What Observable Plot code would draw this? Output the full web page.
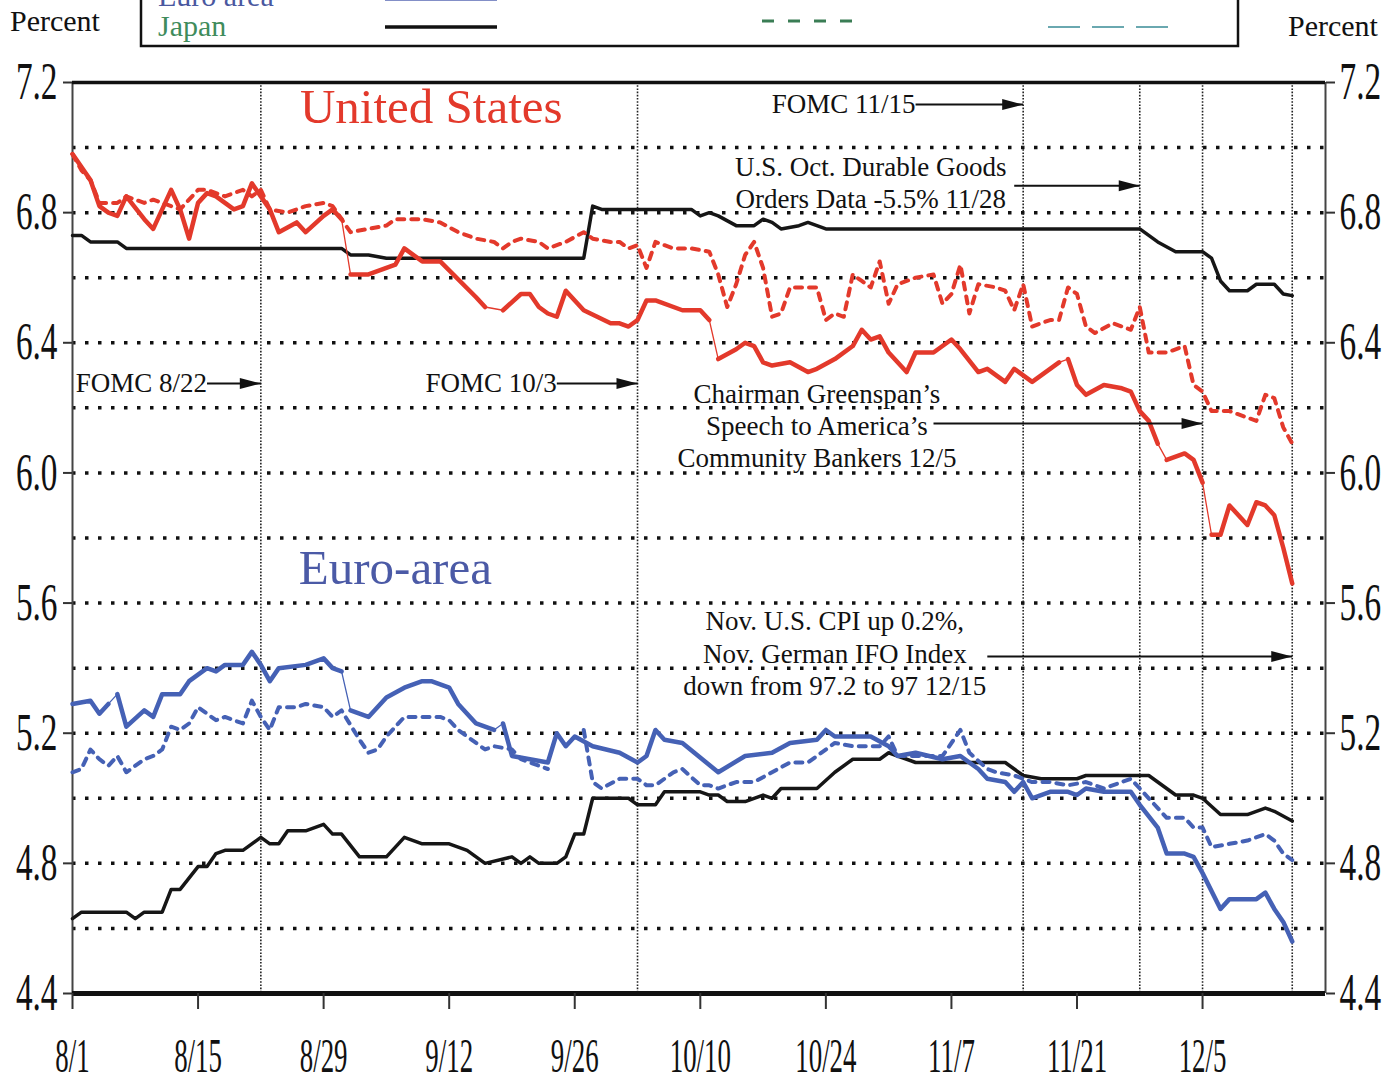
<!DOCTYPE html>
<html><head><meta charset="utf-8">
<script src="https://cdn.jsdelivr.net/npm/d3@7"></script>
<script src="https://cdn.jsdelivr.net/npm/@observablehq/plot@0.6"></script>
<style>
html,body{margin:0;padding:0;background:#fff;}
body{position:relative;width:1400px;height:1085px;overflow:hidden;font-family:"Liberation Serif","Times New Roman",serif;color:#111;}
.pct{position:absolute;font-size:30px;line-height:1;}
#legend{position:absolute;left:0;top:0;}
#chart{position:absolute;left:0;top:50px;}
</style></head><body>
<div class="pct" style="left:10px;top:6px">Percent</div>
<div class="pct" style="left:1288px;top:11px">Percent</div>
<svg id="legend" width="1400" height="50"></svg>
<div id="chart"></div>
<script>
// ---------- axes / reference values ----------
const xTickLabels = ["8/1","8/15","8/29","9/12","9/26","10/10","10/24","11/7","11/21","12/5"];
const yTickValues = [4.4,4.8,5.2,5.6,6.0,6.4,6.8,7.2];
const gridValues = [4.6,4.8,5.0,5.2,5.4,5.6,5.8,6.0,6.2,6.4,6.6,6.8,7.0];
const eventDates = ["8/22","10/3","11/15","11/28","12/5","12/15"];

// ---------- United States ----------
const usSolidDates = ["8/1","8/2","8/3","8/4","8/5","8/6","8/7","8/9","8/10","8/12","8/13","8/14","8/15","8/16","8/17","8/19","8/20","8/21","8/22","8/23","8/24","8/26","8/27","8/29","8/30","8/31","9/1","9/1","9/3","9/6","9/7","9/9","9/11","9/15","9/16","9/18","9/18","9/20","9/21","9/22","9/23","9/24","9/25","9/26","9/27","9/30","10/1","10/2","10/3","10/4","10/5","10/8","10/10","10/11","10/12","10/12","10/14","10/15","10/16","10/17","10/18","10/20","10/22","10/23","10/25","10/27","10/28","10/29","10/30","10/31","11/2","11/3","11/5","11/7","11/8","11/10","11/11","11/13","11/14","11/16","11/19","11/20","11/20","11/21","11/22","11/24","11/26","11/27","11/28","11/29","11/30","12/1","12/1","12/2","12/3","12/4","12/5","12/6","12/6","12/7","12/8","12/10","12/11","12/12","12/13","12/14","12/15"];
const usSolidValues = [6.98,6.94,6.90,6.82,6.80,6.79,6.85,6.78,6.75,6.87,6.81,6.72,6.83,6.86,6.85,6.81,6.82,6.89,6.85,6.81,6.74,6.77,6.74,6.79,6.81,6.78,null,6.61,6.61,6.64,6.69,6.65,6.65,6.54,6.51,null,6.50,6.55,6.55,6.51,6.49,6.48,6.56,6.53,6.50,6.46,6.46,6.45,6.47,6.53,6.53,6.50,6.50,6.47,null,6.35,6.38,6.40,6.39,6.34,6.33,6.34,6.31,6.32,6.35,6.39,6.44,6.41,6.42,6.37,6.31,6.37,6.37,6.41,6.38,6.31,6.32,6.28,6.32,6.28,6.34,null,6.35,6.27,6.24,6.27,6.26,6.25,6.19,6.16,6.09,null,6.04,6.05,6.06,6.04,5.97,null,5.81,5.81,5.90,5.84,5.91,5.90,5.87,5.77,5.66];

const usDashedDates = ["8/1","8/2","8/3","8/4","8/6","8/7","8/9","8/10","8/13","8/15","8/16","8/17","8/18","8/20","8/21","8/22","8/23","8/25","8/27","8/29","8/30","9/1","9/3","9/5","9/6","9/9","9/11","9/13","9/14","9/15","9/17","9/18","9/19","9/20","9/22","9/23","9/25","9/27","9/28","9/30","10/1","10/2","10/3","10/4","10/5","10/7","10/9","10/11","10/12","10/13","10/14","10/15","10/16","10/17","10/18","10/19","10/20","10/21","10/23","10/24","10/25","10/26","10/27","10/28","10/29","10/30","10/31","11/1","11/3","11/5","11/6","11/7","11/8","11/9","11/10","11/12","11/13","11/14","11/15","11/16","11/18","11/19","11/20","11/21","11/22","11/23","11/25","11/27","11/28","11/29","12/1","12/2","12/3","12/4","12/5","12/6","12/7","12/8","12/10","12/11","12/12","12/13","12/14","12/15"];
const usDashedValues = [6.98,6.93,6.90,6.83,6.83,6.85,6.83,6.84,6.81,6.87,6.87,6.86,6.85,6.87,6.85,6.87,6.81,6.80,6.82,6.83,6.82,6.74,6.75,6.76,6.78,6.78,6.77,6.74,6.73,6.72,6.71,6.69,6.71,6.72,6.71,6.69,6.71,6.74,6.72,6.71,6.71,6.69,6.70,6.63,6.71,6.69,6.69,6.68,6.61,6.51,6.58,6.67,6.71,6.63,6.48,6.49,6.57,6.57,6.57,6.47,6.49,6.48,6.61,6.59,6.57,6.65,6.52,6.58,6.60,6.61,6.52,6.55,6.64,6.49,6.58,6.57,6.56,6.50,6.58,6.45,6.47,6.47,6.57,6.55,6.45,6.43,6.46,6.44,6.51,6.37,6.37,6.38,6.39,6.27,6.25,6.19,6.19,6.19,6.17,6.16,6.24,6.23,6.14,6.09];

const usBlackDates = ["8/1","8/2","8/3","8/6","8/7","8/31","9/1","9/3","9/5","9/27","9/28","9/29","10/9","10/10","10/11","10/12","10/14","10/16","10/17","10/18","10/19","10/21","10/22","10/24","11/28","11/29","11/30","12/2","12/5","12/6","12/7","12/8","12/10","12/11","12/13","12/14","12/15"];
const usBlackValues = [6.73,6.73,6.71,6.71,6.69,6.69,6.67,6.67,6.66,6.66,6.82,6.81,6.81,6.79,6.80,6.79,6.76,6.76,6.78,6.77,6.75,6.76,6.77,6.75,6.75,6.73,6.71,6.68,6.68,6.66,6.59,6.56,6.56,6.58,6.58,6.55,6.545];

// ---------- Euro area ----------
const euroSolidDates = ["8/1","8/3","8/4","8/5","8/6","8/6","8/7","8/9","8/10","8/11","8/13","8/14","8/16","8/17","8/18","8/20","8/21","8/22","8/23","8/24","8/27","8/29","8/30","8/31","9/1","9/1","9/3","9/4","9/5","9/7","9/9","9/10","9/12","9/13","9/15","9/17","9/18","9/18","9/19","9/21","9/23","9/24","9/25","9/26","9/28","10/1","10/3","10/4","10/5","10/6","10/8","10/12","10/15","10/18","10/20","10/23","10/24","10/25","10/29","10/31","11/1","11/3","11/6","11/8","11/10","11/11","11/13","11/14","11/15","11/16","11/18","11/20","11/21","11/22","11/24","11/27","11/28","11/30","12/1","12/3","12/4","12/5","12/7","12/8","12/11","12/12","12/13","12/14","12/15"];
const euroSolidValues = [5.29,5.30,5.26,5.29,null,5.32,5.22,5.27,5.25,5.32,5.32,5.36,5.40,5.39,5.41,5.41,5.45,5.41,5.36,5.40,5.41,5.43,5.40,5.39,null,5.27,5.25,5.28,5.31,5.34,5.36,5.36,5.34,5.29,5.23,5.21,null,5.23,5.13,5.12,5.11,5.20,5.16,5.19,5.16,5.14,5.11,5.13,5.21,5.18,5.17,5.08,5.13,5.14,5.17,5.18,5.21,5.19,5.19,5.16,5.13,5.14,5.12,5.13,5.09,5.06,5.05,5.02,5.05,5.00,5.02,5.02,5.01,5.03,5.02,5.02,4.98,4.91,4.83,4.83,4.82,4.77,4.66,4.69,4.69,4.71,4.66,4.62,4.56];

const euroDashedDates = ["8/1","8/2","8/3","8/4","8/5","8/6","8/7","8/9","8/10","8/11","8/12","8/13","8/14","8/15","8/17","8/18","8/20","8/21","8/22","8/23","8/24","8/26","8/27","8/29","8/30","8/31","9/2","9/3","9/4","9/5","9/6","9/7","9/9","9/11","9/12","9/13","9/15","9/16","9/17","9/19","9/20","9/22","9/23","9/27","9/27","9/28","9/29","10/1","10/3","10/4","10/5","10/7","10/8","10/10","10/11","10/12","10/14","10/16","10/18","10/20","10/22","10/23","10/25","10/27","10/28","10/30","10/31","11/1","11/3","11/6","11/8","11/9","11/11","11/12","11/14","11/16","11/18","11/20","11/22","11/24","11/27","11/28","11/29","12/1","12/3","12/4","12/5","12/6","12/8","12/10","12/12","12/13","12/14","12/15"];
const euroDashedValues = [5.08,5.09,5.15,5.12,5.10,5.13,5.08,5.12,5.13,5.15,5.22,5.21,5.23,5.28,5.24,5.25,5.23,5.30,5.25,5.21,5.28,5.28,5.29,5.28,5.25,5.27,5.18,5.14,5.15,5.19,5.22,5.25,5.25,5.25,5.24,5.21,5.17,5.15,5.16,5.15,5.12,5.10,5.09,null,5.21,5.05,5.03,5.06,5.06,5.04,5.04,5.08,5.09,5.04,5.04,5.03,5.05,5.05,5.08,5.11,5.11,5.13,5.17,5.16,5.16,5.16,5.19,5.13,5.13,5.13,5.21,5.14,5.09,5.08,5.07,5.05,5.05,5.04,5.05,5.03,5.06,5.03,5.00,4.94,4.94,4.91,4.91,4.85,4.86,4.87,4.89,4.87,4.83,4.81];

const euroBlackDates = ["8/1","8/2","8/7","8/8","8/9","8/11","8/12","8/13","8/15","8/16","8/17","8/18","8/20","8/22","8/23","8/24","8/25","8/27","8/29","8/30","8/31","9/2","9/5","9/7","9/9","9/12","9/14","9/16","9/19","9/20","9/21","9/22","9/24","9/25","9/26","9/27","9/28","10/2","10/3","10/5","10/6","10/10","10/11","10/12","10/13","10/15","10/17","10/18","10/19","10/23","10/25","10/27","10/30","10/31","11/1","11/3","11/13","11/14","11/15","11/17","11/21","11/22","11/29","12/2","12/4","12/5","12/7","12/10","12/12","12/13","12/15"];
const euroBlackValues = [4.63,4.65,4.65,4.63,4.65,4.65,4.72,4.72,4.79,4.79,4.83,4.84,4.84,4.88,4.86,4.86,4.90,4.90,4.92,4.89,4.89,4.82,4.82,4.88,4.86,4.86,4.84,4.80,4.82,4.80,4.82,4.80,4.80,4.82,4.89,4.89,5.00,5.00,4.98,4.98,5.02,5.02,5.01,5.01,4.99,4.99,5.01,5.00,5.03,5.03,5.08,5.12,5.12,5.14,5.13,5.11,5.11,5.09,5.07,5.06,5.06,5.07,5.07,5.01,5.01,5.00,4.95,4.95,4.97,4.96,4.93];

// ---------- annotations ----------
const noteTexts = ["FOMC 8/22","FOMC 10/3","FOMC 11/15","U.S. Oct. Durable Goods","Orders Data -5.5% 11/28","Chairman Greenspan\u2019s","Speech to America\u2019s","Community Bankers 12/5","Nov. U.S. CPI up 0.2%,","Nov. German IFO Index","down from 97.2 to 97 12/15"];
const noteDates = ["8/16","9/24","11/3","10/29","10/29","10/23","10/23","10/23","10/25","10/25","10/25"];
const noteValues = [6.275,6.275,7.132,6.94,6.84,6.241,6.143,6.044,5.544,5.442,5.344];
const noteAnchors = ["end","end","end","middle","middle","middle","middle","middle","middle","middle","middle"];
const arrowFrom = ["8/16","9/24","11/3","11/14","11/5","11/11"];
const arrowTo = ["8/22","10/3","11/15","11/28","12/5","12/15"];
const arrowValues = [6.275,6.275,7.132,6.883,6.152,5.436];
const regionLabels = ["United States","Euro-area"];
const regionDates = ["9/10","9/6"];
const regionValues = [7.123,5.706];

// ---------- legend ----------
const legendNames = ["Euro area","Japan"];
const legendNameColors = ["#4a58a0","#3f8c5c"];
const legendSampleColors = [["#5a6ab4","#5a6ab4","#5a6ab4"],["#111111","#3a7d55","#6aa8b0"]];

// ---------- helpers ----------
const RED = "#e3392b", BLUE = "#4561b5", BLACK = "#161616";
const toDate = s => { const [m, d] = s.split("/").map(Number); return new Date(Date.UTC(2000, m - 1, d)); };
const rows = (dates, values) => dates.map((d, i) => ({date: toDate(d), value: values[i]}));
const defined = r => r.value != null;

const usSolid = rows(usSolidDates, usSolidValues);
const usDashed = rows(usDashedDates, usDashedValues);
const usBlack = rows(usBlackDates, usBlackValues);
const euSolid = rows(euroSolidDates, euroSolidValues);
const euDashed = rows(euroDashedDates, euroDashedValues);
const euBlack = rows(euroBlackDates, euroBlackValues);

const notes = noteTexts.map((t, i) => ({text: t, date: toDate(noteDates[i]), value: noteValues[i], anchor: noteAnchors[i]}));
const arrows = arrowFrom.map((f, i) => ({from: toDate(f), to: toDate(arrowTo[i]), value: arrowValues[i]}));
const regions = regionLabels.map((t, i) => ({text: t, date: toDate(regionDates[i]), value: regionValues[i]}));

const xStart = new Date(Date.UTC(2000, 7, 1));
const xEnd = new Date(Date.UTC(2000, 11, 18, 17));

const arrowHead = {draw(ctx) { ctx.moveTo(0, 0); ctx.lineTo(-21, -5.5); ctx.lineTo(-21, 5.5); ctx.closePath(); }};

const lineOpts = {x: "date", y: "value"};

const chart = Plot.plot({
  width: 1400, height: 1035,
  marginLeft: 72, marginRight: 75, marginTop: 32, marginBottom: 92,
  x: {type: "utc", domain: [xStart, xEnd]},
  y: {domain: [4.4, 7.2]},
  style: {fontFamily: '"Liberation Serif", "Times New Roman", serif', background: "transparent", color: "#111"},
  marks: [
    Plot.ruleY(gridValues, {stroke: "#111", strokeWidth: 3.5, strokeDasharray: "3.5,9.5"}),
    Plot.ruleX(eventDates.map(toDate), {stroke: "#222", strokeWidth: 1.6, strokeDasharray: "1.6,1.6"}),
    Plot.ruleX([xStart, xEnd], {stroke: "#444", strokeWidth: 2}),
    Plot.ruleY([7.2], {stroke: "#111", strokeWidth: 3.5}),
    Plot.ruleY([4.4], {stroke: "#111", strokeWidth: 5}),
    // black lines
    Plot.line(usBlack, {...lineOpts, stroke: BLACK, strokeWidth: 3.5}),
    Plot.line(euBlack, {...lineOpts, stroke: BLACK, strokeWidth: 3.5}),
    // euro
    Plot.line(euDashed, {...lineOpts, stroke: BLUE, strokeWidth: 4, strokeDasharray: "7,7"}),
    Plot.line(euSolid.filter(defined), {...lineOpts, stroke: BLUE, strokeWidth: 1.3}),
    Plot.line(euSolid, {...lineOpts, stroke: BLUE, strokeWidth: 4.5}),
    // us
    Plot.line(usDashed, {...lineOpts, stroke: RED, strokeWidth: 4, strokeDasharray: "7,7"}),
    Plot.line(usSolid.filter(defined), {...lineOpts, stroke: RED, strokeWidth: 1.3}),
    Plot.line(usSolid, {...lineOpts, stroke: RED, strokeWidth: 4.5}),
    // annotations
    Plot.text(regions.slice(0, 1), {x: "date", y: "value", text: "text", fill: RED, fontSize: 49}),
    Plot.text(regions.slice(1), {x: "date", y: "value", text: "text", fill: "#4b5aa6", fontSize: 49}),
    Plot.text(notes.filter(n => n.anchor === "end"), {x: "date", y: "value", text: "text", textAnchor: "end", fontSize: 27, fill: "#111"}),
    Plot.text(notes.filter(n => n.anchor === "middle"), {x: "date", y: "value", text: "text", fontSize: 27, fill: "#111"}),
    Plot.link(arrows, {x1: "from", x2: "to", y1: "value", y2: "value", stroke: "#111", strokeWidth: 2}),
    Plot.dot(arrows, {x: "to", y: "value", symbol: arrowHead, fill: "#111", stroke: "none", r: 5}),
    // axes
    Plot.axisY({ticks: yTickValues, anchor: "left", tickSize: 9, tickPadding: 6, fontSize: 52, tickFormat: d => d.toFixed(1), label: null, stroke: "#333", strokeWidth: 2, fill: "#111"}),
    Plot.axisY({ticks: yTickValues, anchor: "right", tickSize: 9, tickPadding: 5, fontSize: 52, tickFormat: d => d.toFixed(1), label: null, stroke: "#333", strokeWidth: 2, fill: "#111"}),
    Plot.axisX({ticks: xTickLabels.map(toDate), anchor: "bottom", tickSize: 16, tickPadding: 28, fontSize: 48, tickFormat: d3.utcFormat("%-m/%-d"), label: null, stroke: "#333", strokeWidth: 2, fill: "#111"})
  ]
});
document.getElementById("chart").append(chart);

// condense tick labels horizontally (narrow serif type of the original), scaling about each label's anchor
function squeeze(sel, f) {
  chart.querySelectorAll(sel).forEach(t => {
    const tr = t.getAttribute("transform");
    if (tr) {
      t.setAttribute("transform", `${tr} scale(${f},1)`);
    } else {
      const x = +(t.getAttribute("x") || 0);
      t.setAttribute("transform", `translate(${x},0) scale(${f},1) translate(${-x},0)`);
    }
  });
}
squeeze('g[aria-label="y-axis tick label"] text', 0.64);
squeeze('g[aria-label="x-axis tick label"] text', 0.56);

// ---------- legend box (cropped at the top, as in the original) ----------
const lg = d3.select("#legend");
lg.append("rect").attr("x", 141).attr("y", -60).attr("width", 1097).attr("height", 106)
  .attr("fill", "none").attr("stroke", "#111").attr("stroke-width", 2.5);
const rowBase = [6, 36];
const sampleX = [[385, 497], [762, 862], [1048, 1180]];
const sampleDash = [null, "12,14", "32,12"];
const sampleW = [3.5, 3, 2];
const sampleY = [[-1, -6, -1], [27, 21, 27]];
legendNames.forEach((name, r) => {
  lg.append("text").attr("x", 158).attr("y", rowBase[r]).attr("font-size", 30)
    .attr("font-family", '"Liberation Serif", serif').attr("fill", legendNameColors[r]).text(name);
  sampleX.forEach((xs, c) => {
    lg.append("line").attr("x1", xs[0]).attr("x2", xs[1]).attr("y1", sampleY[r][c]).attr("y2", sampleY[r][c])
      .attr("stroke", legendSampleColors[r][c]).attr("stroke-width", sampleW[c])
      .attr("stroke-dasharray", sampleDash[c]);
  });
});
</script></body></html>
